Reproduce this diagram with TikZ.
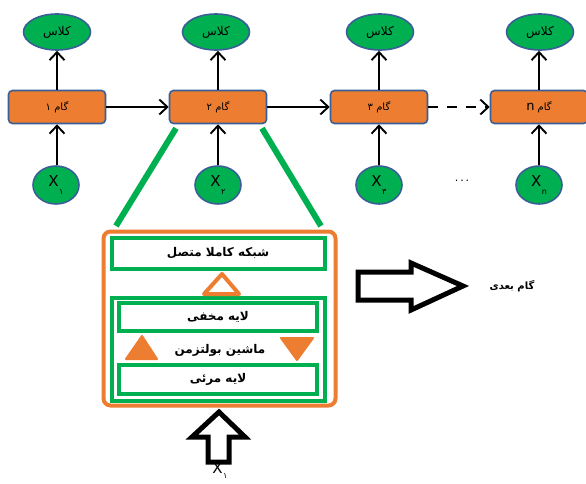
\documentclass[tikz,border=0pt]{standalone}
\usepackage{fontspec}
\usetikzlibrary{shapes.geometric,arrows.meta}
\TeXXeTstate=1
\newfontfamily\arabicfont[Script=Arabic]{DejaVu Sans}
\newfontfamily\latfont{DejaVu Sans}
\definecolor{gr}{HTML}{00B050}
\definecolor{org}{HTML}{ED7D31}
\definecolor{bl}{HTML}{3A5F96}
\tikzset{
  cls/.style={ellipse,fill=gr,draw=bl,line width=1.6pt,minimum width=67pt,minimum height=36pt,inner sep=0pt,font=\arabicfont\fontsize{12}{14}\selectfont},
  xin/.style={ellipse,fill=gr,draw=bl,line width=1.6pt,minimum width=46pt,minimum height=38pt,inner sep=0pt},
  stepbox/.style={rectangle,rounded corners=4pt,fill=org,draw=bl,line width=1.6pt,minimum width=97pt,minimum height=33pt,inner sep=0pt,font=\arabicfont\fontsize{10}{12}\selectfont},
  arr/.style={line width=1.9pt,-{Straight Barb[length=8pt,width=15pt,line width=1.9pt]}},
  gbox/.style={rectangle,draw=gr,fill=white,line width=4pt,inner sep=0pt,font=\arabicfont\bfseries\fontsize{12}{14}\selectfont},
  gline/.style={draw=gr,line width=6pt},
  blockarr/.style={draw=black,line width=5pt,line join=miter,fill=white},
}
\newcommand{\rtl}[1]{\beginR #1\endR}
\newcommand{\xsub}[2][-8pt]{{\latfont\fontsize{15}{16}\selectfont X}\kern0.5pt\raisebox{#1}{\arabicfont\fontsize{8}{9}\selectfont #2}}
\begin{document}
\begin{tikzpicture}[x=1pt,y=-1pt]
\useasboundingbox (0,0) rectangle (586,484);
\clip (0,0) rectangle (586,484);
% class ellipses
\node[cls] (c1) at (57,32) {\rtl{کلاس}};
\node[cls] (c2) at (216,32) {\rtl{کلاس}};
\node[cls] (c3) at (380,32) {\rtl{کلاس}};
\node[cls] (c4) at (540,32) {\rtl{کلاس}};
% steps
\node[stepbox] (s1) at (57,107) {\rtl{گام ۱}};
\node[stepbox] (s2) at (218,107) {\rtl{گام ۲}};
\node[stepbox] (s3) at (379,107) {\rtl{گام ۳}};
\node[stepbox] (s4) at (539,107) {\rtl{گام {\latfont\fontsize{13}{14}\selectfont n}}};
% inputs
\node[xin] (x1) at (56,185) {\xsub{۱}};
\node[xin] (x2) at (218,185) {\xsub{۲}};
\node[xin] (x3) at (379,185) {\xsub{۳}};
\node[xin] (x4) at (539,185) {\xsub{{\latfont n}}};
\node[font=\latfont\fontsize{11}{12}\selectfont] (dots) at (462,181) {.\,.\,.};
% connectors
\foreach \i in {1,2,3,4}{
  \draw[arr] (s\i.north) -- (s\i.north |- c\i.south);
  \draw[arr] (x\i.north -| s\i.north) -- (s\i.south);
}
\draw[arr] (s1.east) -- (s2.west);
\draw[arr] (s2.east) -- (s3.west);
\draw[arr,dash pattern=on 10pt off 9pt] (s3.east) -- (s4.west);
% green zoom lines
\coordinate (gl) at (116,226);
\coordinate (gr) at (321,226);
\draw[gline] ([xshift=-42pt,yshift=-4pt]s2.south) -- (gl);
\draw[gline] ([xshift=44pt,yshift=-4pt]s2.south) -- (gr);
% big frame
\node[draw=org,line width=4pt,rounded corners=7pt,minimum width=232pt,minimum height=174pt,inner sep=0pt] (frame) at (219.5,318.5) {};
\node[gbox,minimum width=213pt,minimum height=31pt] (fc) at (218,253.5) {\rtl{شبکه کاملا متصل}};
\node[gbox,fill=none,minimum width=213pt,minimum height=103pt] (rbm) at (218,349.5) {};
\node[gbox,minimum width=198pt,minimum height=28pt] (hid) at (218,317) {\rtl{لایه مخفی}};
\node[gbox,minimum width=198pt,minimum height=29pt] (vis) at (218,379.5) {\rtl{لایه مرئی}};
\node[font=\arabicfont\bfseries\fontsize{12}{14}\selectfont] (bm) at (220,350) {\rtl{ماشین بولتزمن}};
% triangles
\draw[draw=org,fill=white,line width=4pt,line join=round] (222,274) -- (239,294) -- (204,294) -- cycle;
\fill[org,draw=org,line width=2pt,line join=round] (142,336) -- (157,359) -- (126,359) -- cycle;
\fill[org,draw=org,line width=2pt,line join=round] (281,338) -- (313,338) -- (297,360) -- cycle;
% block arrow right
\draw[blockarr] (358,272) -- (411,272) -- (411,263) -- (463,286) -- (411,310) -- (411,300) -- (358,300) -- cycle;
\node[font=\arabicfont\bfseries\fontsize{10}{12}\selectfont] (next) at (512,286) {\rtl{گام بعدی}};
% block arrow up
\draw[blockarr] (219,412) -- (245,437) -- (229,437) -- (229,462) -- (208,462) -- (208,437) -- (192,437) -- cycle;
\node[inner sep=0pt] (xb) at (220,471) {\xsub[-5pt]{۱}};
\end{tikzpicture}
\end{document}
